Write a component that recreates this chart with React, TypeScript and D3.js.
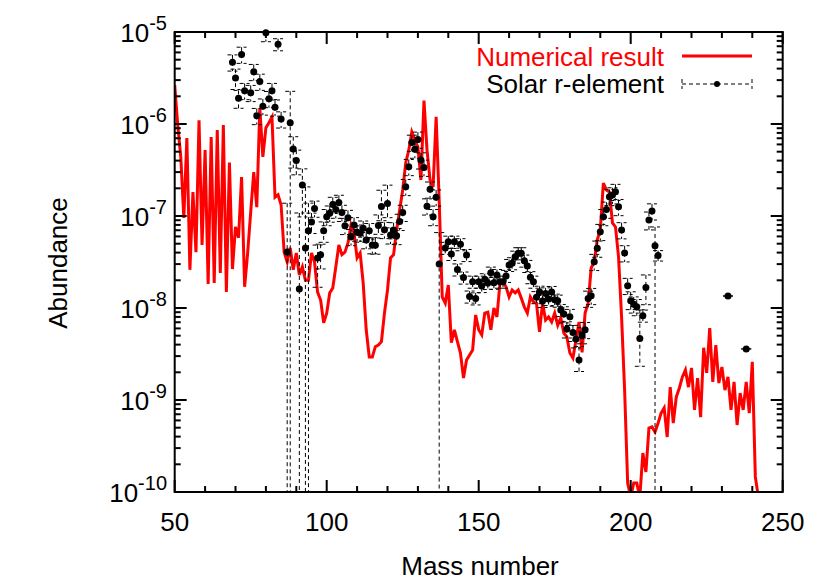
import React from 'react';
import * as d3 from 'd3';

const width = 830;
const height = 581;
const margin = { left: 174.7, right: 47.3, top: 32, bottom: 89 };

const xTicks = [50, 100, 150, 200, 250];
const xMinorTicks = [60, 70, 80, 90, 110, 120, 130, 140, 160, 170, 180, 190, 210, 220, 230, 240];
const yExponents = [-10, -9, -8, -7, -6, -5];
const yMinorMantissas = [2, 3, 4, 5, 6, 7, 8, 9];

const legendLabels = ['Numerical result', 'Solar r-element'];

// [mass number, abundance]
const numericalResult: [number, number][] = [
  [50, 2.65e-6], [51, 9.7e-7], [52, 4.4e-7], [53, 9.5e-8], [54, 7.05e-7], [55, 2.6e-8], [56, 1.82e-7], [57, 4.05e-8], [58, 1.1e-6], [59, 4.85e-8],
  [60, 5.2e-7], [61, 1.82e-8], [62, 7.2e-7], [63, 1.87e-8], [64, 8.6e-7], [65, 2.4e-8], [66, 9.75e-7], [67, 1.49e-8], [68, 3.8e-7], [69, 2.65e-8],
  [70, 7.6e-8], [71, 5.8e-8], [72, 2.65e-7], [73, 1.7e-8], [74, 3.96e-8], [75, 1.1e-7], [76, 3.0e-7], [77, 1.25e-7], [78, 1.49e-6], [79, 4.4e-7],
  [80, 9.1e-7], [81, 1.03e-6], [82, 1.19e-6], [83, 1.6e-7], [84, 1.7e-7], [85, 1.32e-7], [86, 4.05e-8], [87, 3.16e-8], [88, 4.5e-8], [89, 2.6e-8],
  [90, 3.96e-8], [91, 2.28e-8], [92, 2.8e-8], [93, 2.0e-8], [94, 2.0e-8], [95, 3.96e-8], [96, 3.16e-8], [97, 1.49e-8], [98, 1.22e-8], [99, 6.9e-9],
  [100, 8.8e-9], [101, 1.46e-8], [102, 1.65e-8], [103, 2.8e-8], [104, 4.85e-8], [105, 3.8e-8], [106, 4.05e-8], [107, 5.1e-8], [108, 8.0e-8], [109, 6.5e-8],
  [110, 3.5e-8], [111, 3.96e-8], [112, 1.87e-8], [113, 5.8e-9], [114, 2.94e-9], [115, 2.94e-9], [116, 3.8e-9], [117, 3.96e-9], [118, 4.3e-9], [119, 8.8e-9],
  [120, 1.57e-8], [121, 3.5e-8], [122, 3.8e-8], [123, 7.05e-8], [124, 1.16e-7], [125, 1.92e-7], [126, 3.8e-7], [127, 5.2e-7], [128, 8.2e-7], [129, 6.7e-7],
  [130, 5.6e-7], [131, 2.46e-7], [132, 1.8e-6], [133, 5.2e-7], [134, 2.46e-7], [135, 2.07e-7], [136, 1.2e-6], [137, 1.49e-7], [138, 1.32e-8], [139, 1.13e-8],
  [140, 1.78e-8], [141, 4.2e-9], [142, 5.8e-9], [143, 4.3e-9], [144, 3.24e-9], [145, 1.73e-9], [146, 2.72e-9], [147, 3.09e-9], [148, 3.49e-9], [149, 8.4e-9],
  [150, 5.8e-9], [151, 5.1e-9], [152, 8.8e-9], [153, 9.0e-9], [154, 5.8e-9], [155, 1.0e-8], [156, 8.0e-9], [157, 1.87e-8], [158, 1.92e-8], [159, 1.7e-8],
  [160, 1.32e-8], [161, 1.57e-8], [162, 1.46e-8], [163, 1.57e-8], [164, 1.28e-8], [165, 1.03e-8], [166, 8.8e-9], [167, 1.32e-8], [168, 1.16e-8], [169, 1.13e-8],
  [170, 5.5e-9], [171, 1.13e-8], [172, 7.4e-9], [173, 8.0e-9], [174, 7.05e-9], [175, 8.8e-9], [176, 6.5e-9], [177, 7.8e-9], [178, 5.35e-9], [179, 4.85e-9],
  [180, 3.24e-9], [181, 2.86e-9], [182, 4.5e-9], [183, 7.05e-9], [184, 3.3e-9], [185, 8.8e-9], [186, 1.13e-8], [187, 2.72e-8], [188, 3.16e-8], [189, 5.5e-8],
  [190, 7.05e-8], [191, 2.28e-7], [192, 1.92e-7], [193, 1.82e-7], [194, 8.4e-8], [195, 7.6e-8], [196, 3.6e-8], [197, 8.0e-9], [198, 1.28e-9], [199, 1.25e-10],
  [200, 8.8e-11], [201, 1.25e-10], [202, 1.25e-10], [203, 8.8e-11], [204, 2.65e-10], [205, 1.65e-10], [206, 4.95e-10], [207, 5.1e-10], [208, 4.5e-10], [209, 5.6e-10],
  [210, 7.2e-10], [211, 8.2e-10], [212, 3.96e-10], [213, 1.38e-9], [214, 5.6e-10], [215, 1.08e-9], [216, 1.35e-9], [217, 1.78e-9], [218, 2.12e-9], [219, 1.38e-9],
  [220, 2.23e-9], [221, 7.8e-10], [222, 1.73e-9], [223, 6.5e-10], [224, 3.7e-9], [225, 1.97e-9], [226, 6.05e-9], [227, 1.57e-9], [228, 3.96e-9], [229, 1.53e-9],
  [230, 2.28e-9], [231, 1.28e-9], [232, 1.78e-9], [233, 7.8e-10], [234, 1.57e-9], [235, 5.35e-10], [236, 1.19e-9], [237, 7.8e-10], [238, 1.57e-9], [239, 7.2e-10],
  [240, 2.6e-9], [241, 1.46e-10], [242, 8.8e-11],
];

// [mass number, abundance, relative lower error, relative upper error]
const solarR: [number, number, number, number][] = [
  [69, 4.7e-6, 0.2, 0.2], [70, 3.16e-6, 0.25, 0.25], [71, 1.9e-6, 0.22, 0.22], [72, 5.7e-6, 0.2, 0.2], [73, 2.3e-6, 0.2, 0.2],
  [75, 2.19e-6, 0.2, 0.2], [76, 3.7e-6, 0.2, 0.2], [77, 1.23e-6, 0.2, 0.2], [78, 2.9e-6, 0.2, 0.2], [79, 1.56e-6, 0.2, 0.2],
  [80, 9.8e-6, 0.2, 0.2], [81, 1.88e-6, 0.2, 0.2], [82, 2.3e-6, 0.2, 0.2], [83, 1.52e-6, 0.2, 0.2], [84, 7.35e-6, 0.15, 0.15],
  [85, 1.13e-6, 0.2, 0.2], [87, 4.05e-8, 1, 2.4], [88, 1.03e-6, 1, 1.2], [89, 5.35e-7, 0.38, 0.36], [90, 4.0e-7, 0.3, 0.3],
  [91, 1.61e-8, 1, 5.7], [92, 2.17e-7, 0.55, 0.5], [93, 4.5e-8, 1, 3.6], [94, 6.9e-8, 1, 1.0], [95, 8.6e-8, 0.25, 0.25],
  [96, 1.21e-7, 0.2, 0.2], [97, 3.5e-8, 0.52, 0.38], [98, 3.8e-8, 0.3, 0.3], [99, 6.9e-8, 0.25, 0.25], [100, 9.8e-8, 0.2, 0.2],
  [101, 1.07e-7, 0.2, 0.2], [102, 1.33e-7, 0.2, 0.2], [103, 1.18e-7, 0.2, 0.2], [104, 1.4e-7, 0.2, 0.2], [105, 1.09e-7, 0.2, 0.2],
  [106, 7.85e-8, 0.2, 0.2], [107, 9.6e-8, 0.2, 0.2], [108, 5.95e-8, 0.2, 0.2], [109, 8.0e-8, 0.2, 0.2], [110, 6.65e-8, 0.2, 0.2],
  [111, 6.5e-8, 0.2, 0.2], [112, 7.35e-8, 0.2, 0.2], [113, 5.5e-8, 0.2, 0.2], [114, 6.9e-8, 0.2, 0.2], [115, 4.85e-8, 0.2, 0.2],
  [116, 4.8e-8, 0.2, 0.2], [117, 7.9e-8, 0.2, 0.3], [118, 1.27e-7, 0.3, 0.5], [119, 7.1e-8, 0.2, 0.2], [120, 1.37e-7, 0.3, 0.58],
  [121, 6.2e-8, 0.2, 0.2], [122, 7.05e-8, 0.2, 0.2], [123, 6.1e-8, 0.2, 0.2], [124, 8.7e-8, 0.2, 0.2], [125, 1.09e-7, 0.2, 0.2],
  [126, 2.08e-7, 0.2, 0.2], [127, 3.43e-7, 0.2, 0.2], [128, 6.3e-7, 0.2, 0.2], [129, 5.3e-7, 0.2, 0.2], [130, 6.8e-7, 0.2, 0.2],
  [131, 4.05e-7, 0.2, 0.2], [132, 3.37e-7, 0.2, 0.2], [133, 1.28e-7, 0.2, 0.2], [134, 1.95e-7, 0.2, 0.2], [135, 9.8e-8, 0.2, 0.2],
  [136, 1.6e-7, 0.2, 0.2], [137, 3.0e-8, 1, 1.2], [139, 4.5e-8, 0.15, 0.15], [140, 5.25e-8, 0.15, 0.15], [141, 3.86e-8, 0.15, 0.15],
  [142, 5.25e-8, 0.15, 0.15], [143, 2.62e-8, 0.15, 0.15], [144, 4.93e-8, 0.15, 0.15], [145, 2.14e-8, 0.15, 0.15], [146, 3.76e-8, 0.15, 0.15],
  [147, 1.33e-8, 0.15, 0.15], [148, 1.93e-8, 0.15, 0.15], [149, 1.27e-8, 0.15, 0.15], [150, 1.93e-8, 0.15, 0.15], [151, 1.73e-8, 0.15, 0.15],
  [152, 2.05e-8, 0.15, 0.15], [153, 1.87e-8, 0.15, 0.15], [154, 2.42e-8, 0.15, 0.15], [155, 1.88e-8, 0.15, 0.15], [156, 2.28e-8, 0.15, 0.15],
  [157, 1.93e-8, 0.15, 0.15], [158, 1.93e-8, 0.15, 0.15], [159, 2.23e-8, 0.15, 0.15], [160, 2.93e-8, 0.15, 0.15], [161, 3.06e-8, 0.15, 0.15],
  [162, 3.61e-8, 0.15, 0.15], [163, 3.93e-8, 0.15, 0.15], [164, 3.93e-8, 0.15, 0.15], [165, 3.27e-8, 0.15, 0.15], [166, 2.86e-8, 0.15, 0.15],
  [167, 2.16e-8, 0.15, 0.15], [168, 1.93e-8, 0.15, 0.15], [169, 1.31e-8, 0.15, 0.15], [170, 1.5e-8, 0.15, 0.15], [171, 1.19e-8, 0.15, 0.15],
  [172, 1.44e-8, 0.15, 0.15], [173, 1.25e-8, 0.15, 0.15], [174, 1.49e-8, 0.15, 0.15], [175, 1.23e-8, 0.15, 0.15], [176, 1.2e-8, 0.15, 0.15],
  [177, 9.5e-9, 0.15, 0.15], [178, 8.6e-9, 0.2, 0.2], [179, 5.9e-9, 0.2, 0.2], [180, 8.05e-9, 0.2, 0.2], [181, 5.4e-9, 0.2, 0.2],
  [182, 4.6e-9, 0.2, 0.2], [183, 2.72e-9, 0.25, 0.4], [184, 5.1e-9, 0.2, 0.2], [185, 5.8e-9, 0.2, 0.2], [186, 1.27e-8, 0.2, 0.2],
  [187, 1.36e-8, 0.2, 0.2], [188, 3.19e-8, 0.2, 0.2], [189, 4.45e-8, 0.2, 0.2], [190, 6.75e-8, 0.2, 0.2], [191, 9.8e-8, 0.2, 0.2],
  [192, 1.18e-7, 0.2, 0.2], [193, 1.62e-7, 0.2, 0.2], [194, 1.69e-7, 0.2, 0.2], [195, 1.84e-7, 0.2, 0.2], [196, 1.26e-7, 0.2, 0.2],
  [197, 7.05e-8, 0.2, 0.2], [198, 3.96e-8, 0.2, 0.2], [199, 1.75e-8, 0.2, 0.2], [200, 1.2e-8, 0.2, 0.25], [201, 1.1e-8, 0.2, 0.2],
  [202, 1.03e-8, 0.2, 0.2], [203, 4.65e-9, 0.5, 1.06], [204, 8.25e-9, 0.15, 0.15], [205, 1.67e-8, 0.35, 0.37], [206, 9.05e-8, 0.22, 0.22],
  [207, 1.13e-7, 0.2, 0.2], [208, 4.75e-8, 1, 0.6], [209, 3.72e-8, 0.13, 0.13], [232, 1.35e-8, 0, 0], [238, 3.59e-9, 0, 0],
];

const x = d3.scaleLinear().domain([50, 250]).range([margin.left, width - margin.right]);
const y = d3.scaleLog().domain([1e-10, 1e-5]).range([height - margin.bottom, margin.top]);

const x0 = x.range()[0];
const x1 = x.range()[1];
const yTop = y.range()[1];
const yBot = y.range()[0];

const font = 'Liberation Sans, Arial, Helvetica, sans-serif';

const redLine = d3
  .line<[number, number]>()
  .x((d) => x(d[0]))
  .y((d) => y(d[1]));

const capHalf = 5;

export default function App() {
  const minorY: number[] = [];
  yExponents.slice(0, -1).forEach((e) => {
    yMinorMantissas.forEach((m) => minorY.push(m * Math.pow(10, e)));
  });

  return (
    <svg
      width={width}
      height={height}
      style={{ position: 'absolute', left: 0, top: 0, background: '#fff' }}
      fontFamily={font}
    >
      <defs>
        <clipPath id="plotArea">
          <rect x={x0} y={yTop} width={x1 - x0} height={yBot - yTop} />
        </clipPath>
      </defs>

      <g clipPath="url(#plotArea)">
        <path d={redLine(numericalResult) || ''} fill="none" stroke="#ff0000" strokeWidth={3} strokeLinejoin="miter" />
        {solarR.map(([a, v, lo, hi]) => {
          const cx = x(a);
          const yHi = y(v * (1 + hi));
          const lowVal = v * (1 - lo);
          const yLo = lowVal > 0 ? y(lowVal) : yBot + 10;
          return (
            <g key={'e' + a} stroke="#000" strokeWidth={1} strokeDasharray="4,3" fill="none">
              <line x1={cx} x2={cx} y1={yHi} y2={yLo} />
              <line x1={cx - capHalf} x2={cx + capHalf} y1={yHi} y2={yHi} />
              {lowVal > 0 && <line x1={cx - capHalf} x2={cx + capHalf} y1={yLo} y2={yLo} />}
            </g>
          );
        })}
      </g>
      {solarR.map(([a, v]) => (
        <circle key={'p' + a} cx={x(a)} cy={y(v)} r={3.5} fill="#000" />
      ))}

      {/* frame */}
      <rect x={x0} y={yTop} width={x1 - x0} height={yBot - yTop} fill="none" stroke="#000" strokeWidth={2} />

      {/* x ticks */}
      {xTicks.map((t) => (
        <g key={'xt' + t}>
          <line x1={x(t)} x2={x(t)} y1={yBot} y2={yBot - 12} stroke="#000" strokeWidth={2} />
          <line x1={x(t)} x2={x(t)} y1={yTop} y2={yTop + 12} stroke="#000" strokeWidth={2} />
          <text x={x(t)} y={531} textAnchor="middle" fontSize={26} fill="#000">
            {t}
          </text>
        </g>
      ))}
      {xMinorTicks.map((t) => (
        <g key={'xm' + t}>
          <line x1={x(t)} x2={x(t)} y1={yBot} y2={yBot - 6} stroke="#000" strokeWidth={2} />
          <line x1={x(t)} x2={x(t)} y1={yTop} y2={yTop + 6} stroke="#000" strokeWidth={2} />
        </g>
      ))}

      {/* y ticks */}
      {yExponents.map((e) => {
        const yy = y(Math.pow(10, e));
        return (
          <g key={'yt' + e}>
            <line x1={x0} x2={x0 + 12} y1={yy} y2={yy} stroke="#000" strokeWidth={2} />
            <line x1={x1} x2={x1 - 12} y1={yy} y2={yy} stroke="#000" strokeWidth={2} />
            <text x={167} y={yy + 10} textAnchor="end" fontSize={26} fill="#000">
              <tspan>10</tspan>
              <tspan dy={-12} fontSize={20}>
                {String(e)}
              </tspan>
            </text>
          </g>
        );
      })}
      {minorY.map((v, i) => (
        <g key={'ym' + i}>
          <line x1={x0} x2={x0 + 6} y1={y(v)} y2={y(v)} stroke="#000" strokeWidth={2} />
          <line x1={x1} x2={x1 - 6} y1={y(v)} y2={y(v)} stroke="#000" strokeWidth={2} />
        </g>
      ))}

      {/* axis titles */}
      <text x={480} y={575} textAnchor="middle" fontSize={26} fill="#000">
        Mass number
      </text>
      <text transform="translate(67,263) rotate(-90)" textAnchor="middle" fontSize={26} fill="#000">
        Abundance
      </text>

      {/* legend */}
      <text x={664} y={66} textAnchor="end" fontSize={26} fill="#ff0000">
        {legendLabels[0]}
      </text>
      <line x1={682} x2={752} y1={56} y2={56} stroke="#ff0000" strokeWidth={3} />
      <text x={664} y={93} textAnchor="end" fontSize={26} fill="#000">
        {legendLabels[1]}
      </text>
      <g stroke="#000" strokeWidth={1} strokeDasharray="4,3">
        <line x1={682} x2={752} y1={84} y2={84} />
        <line x1={682} x2={682} y1={79} y2={89} />
        <line x1={752} x2={752} y1={79} y2={89} />
      </g>
      <circle cx={717} cy={84} r={3} fill="#000" />
    </svg>
  );
}
